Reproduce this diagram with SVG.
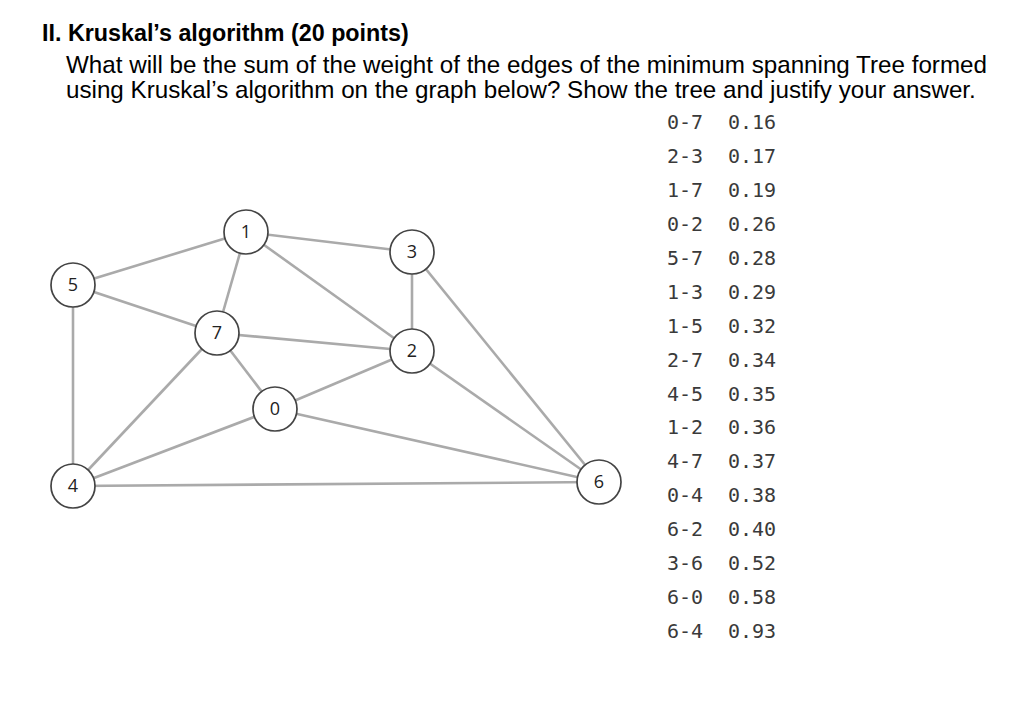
<svg xmlns="http://www.w3.org/2000/svg" width="1024" height="718" viewBox="0 0 1024 718">
<style>
.t{font-family:"Liberation Sans",Arial,sans-serif;fill:#000}
.e{stroke:#aaaaaa;stroke-width:2.6;fill:none}
.n circle{fill:#fff;stroke:#444;stroke-width:1.7}
.n text{font-family:"Open Sans","DejaVu Sans",sans-serif;font-size:18px;fill:#222;text-anchor:middle}
.w{font-family:"DejaVu Sans Mono","Liberation Mono",monospace;font-size:20px;fill:#3a3a3a}
</style>
<rect width="1024" height="718" fill="#fff"/>
<text class="t" x="42" y="41" font-size="23.3" font-weight="bold">II. Kruskal’s algorithm (20 points)</text>
<text class="t" x="66" y="73" font-size="24.2">What will be the sum of the weight of the edges of the minimum spanning Tree formed</text>
<text class="t" x="66" y="98" font-size="24.2">using Kruskal’s algorithm on the graph below? Show the tree and justify your answer.</text>
<g id="connectors">
<line class="e" x1="246" y1="232" x2="73" y2="285"/>
<line class="e" x1="246" y1="232" x2="217" y2="333"/>
<line class="e" x1="246" y1="232" x2="412" y2="252"/>
<line class="e" x1="246" y1="232" x2="412" y2="351"/>
<line class="e" x1="73" y1="285" x2="217" y2="333"/>
<line class="e" x1="73" y1="285" x2="73" y2="486"/>
<line class="e" x1="217" y1="333" x2="412" y2="351"/>
<line class="e" x1="217" y1="333" x2="275" y2="409"/>
<line class="e" x1="217" y1="333" x2="73" y2="486"/>
<line class="e" x1="412" y1="252" x2="412" y2="351"/>
<line class="e" x1="412" y1="252" x2="599" y2="482"/>
<line class="e" x1="412" y1="351" x2="275" y2="409"/>
<line class="e" x1="412" y1="351" x2="599" y2="482"/>
<line class="e" x1="275" y1="409" x2="73" y2="486"/>
<line class="e" x1="275" y1="409" x2="599" y2="482"/>
<line class="e" x1="73" y1="486" x2="599" y2="482"/>
</g>
<g id="node1" class="n"><circle cx="246" cy="232" r="22"/><text x="246" y="238">1</text></g>
<g id="node5" class="n"><circle cx="73" cy="285" r="22"/><text x="73" y="291">5</text></g>
<g id="node7" class="n"><circle cx="217" cy="333" r="22"/><text x="217" y="339">7</text></g>
<g id="node3" class="n"><circle cx="412" cy="252" r="22"/><text x="412" y="258">3</text></g>
<g id="node2" class="n"><circle cx="412" cy="351" r="22"/><text x="412" y="357">2</text></g>
<g id="node0" class="n"><circle cx="275" cy="409" r="22"/><text x="275" y="415">0</text></g>
<g id="node6" class="n"><circle cx="599" cy="482" r="22"/><text x="599" y="488">6</text></g>
<g id="node4" class="n"><circle cx="73" cy="486" r="22"/><text x="73" y="492">4</text></g>
<g id="weights">
<text class="w" x="667" y="129">0-7</text><text class="w" x="728" y="129">0.16</text>
<text class="w" x="667" y="163">2-3</text><text class="w" x="728" y="163">0.17</text>
<text class="w" x="667" y="197">1-7</text><text class="w" x="728" y="197">0.19</text>
<text class="w" x="667" y="231">0-2</text><text class="w" x="728" y="231">0.26</text>
<text class="w" x="667" y="265">5-7</text><text class="w" x="728" y="265">0.28</text>
<text class="w" x="667" y="299">1-3</text><text class="w" x="728" y="299">0.29</text>
<text class="w" x="667" y="333">1-5</text><text class="w" x="728" y="333">0.32</text>
<text class="w" x="667" y="367">2-7</text><text class="w" x="728" y="367">0.34</text>
<text class="w" x="667" y="401">4-5</text><text class="w" x="728" y="401">0.35</text>
<text class="w" x="667" y="434">1-2</text><text class="w" x="728" y="434">0.36</text>
<text class="w" x="667" y="468">4-7</text><text class="w" x="728" y="468">0.37</text>
<text class="w" x="667" y="502">0-4</text><text class="w" x="728" y="502">0.38</text>
<text class="w" x="667" y="536">6-2</text><text class="w" x="728" y="536">0.40</text>
<text class="w" x="667" y="570">3-6</text><text class="w" x="728" y="570">0.52</text>
<text class="w" x="667" y="604">6-0</text><text class="w" x="728" y="604">0.58</text>
<text class="w" x="667" y="638">6-4</text><text class="w" x="728" y="638">0.93</text>
</g>
</svg>
